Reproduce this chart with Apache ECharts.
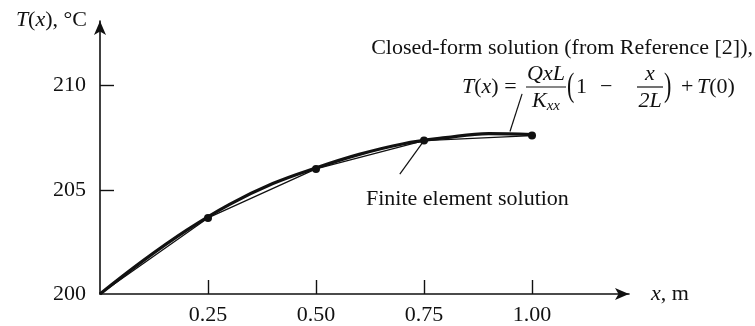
<!DOCTYPE html>
<html><head><meta charset="utf-8">
<script src="https://cdn.jsdelivr.net/npm/echarts@6/dist/echarts.min.js"></script>
<style>html,body{margin:0;padding:0;background:#fff}#c{width:755px;height:326px}</style>
</head><body><div id="c"></div>
<script>
// Finite element nodes
const feX = [0, 0.25, 0.5, 0.75, 1.0];
const feT = [200, 203.65, 206.0, 207.36, 207.6];
// Closed-form curve samples
const cfX = [0, 0.1, 0.2, 0.3, 0.4, 0.5, 0.6, 0.7, 0.8, 0.9, 1.0];
const cfT = [200, 201.6, 203.05, 204.3, 205.3, 206.05, 206.7, 207.2, 207.5, 207.7, 207.65];
// Ticks
const xTicks = [0.25, 0.5, 0.75, 1.0];
const xTickLabels = ['0.25', '0.50', '0.75', '1.00'];
const yTicks = [205, 210];
const yTickLabels = [200, 205, 210];
// Leader lines (data space)
const cfLeader = [[0.949, 207.8], [0.977, 209.6]];
const feLeader = [[0.75, 207.36], [0.694, 205.75]];

const FONT = '"Liberation Serif", "DejaVu Serif", serif';
const FS = 22;
const chart = echarts.init(document.getElementById('c'), null, {renderer: 'canvas'});
const ink = '#111';
const txt = (x, y, s, opt, extra) => Object.assign({type: 'text', x: x, y: y, style: Object.assign({text: s, fill: ink, font: FS + 'px ' + FONT, textVerticalAlign: 'middle'}, opt || {})}, extra || {});
const italicRich = {i: {fontStyle: 'italic', fontFamily: FONT, fontSize: FS, fill: ink, color: ink}};
chart.setOption({
  animation: false,
  backgroundColor: '#fff',
  grid: {left: 100, right: 126, top: 21, bottom: 31},
  xAxis: {
    type: 'value', min: 0, max: 1.2245,
    axisLine: {show: true, symbol: ['none', 'arrow'], symbolSize: [9, 14], lineStyle: {color: ink, width: 1.6}},
    axisTick: {show: true, inside: true, length: 14, lineStyle: {color: ink, width: 1.4}, customValues: xTicks},
    axisLabel: {color: ink, fontFamily: FONT, fontSize: FS, margin: 10, customValues: xTicks,
      formatter: v => { const i = xTicks.findIndex(t => Math.abs(t - v) < 1e-6); return i >= 0 ? xTickLabels[i] : ''; }},
    splitLine: {show: false},
    name: '{i|x}, m', nameLocation: 'end', nameGap: 22,
    nameTextStyle: {color: ink, fontFamily: FONT, fontSize: FS, verticalAlign: 'middle', rich: italicRich}
  },
  yAxis: {
    type: 'value', min: 200, max: 213.1,
    axisLine: {show: true, symbol: ['none', 'arrow'], symbolSize: [9, 14], lineStyle: {color: ink, width: 1.6}},
    axisTick: {show: true, inside: true, length: 14, lineStyle: {color: ink, width: 1.4}, customValues: yTicks},
    axisLabel: {color: ink, fontFamily: FONT, fontSize: FS, margin: 14, customValues: yTickLabels},
    splitLine: {show: false}
  },
  series: [
    {
      type: 'line', name: 'Closed-form', smooth: 0.4, showSymbol: false,
      data: cfX.map((x, i) => [x, cfT[i]]),
      lineStyle: {color: ink, width: 3.2}, z: 2,
      markLine: {silent: true, symbol: ['none', 'none'], label: {show: false},
        lineStyle: {color: ink, width: 1.2, type: 'solid'},
        data: [[{coord: cfLeader[0]}, {coord: cfLeader[1]}]]}
    },
    {
      type: 'line', name: 'Finite element', showSymbol: true, symbol: 'circle', symbolSize: 8,
      data: feX.map((x, i) => i === 0 ? {value: [x, feT[i]], symbol: 'none'} : [x, feT[i]]),
      lineStyle: {color: ink, width: 1.3}, itemStyle: {color: ink}, z: 3,
      markLine: {silent: true, symbol: ['none', 'none'], label: {show: false},
        lineStyle: {color: ink, width: 1.2, type: 'solid'},
        data: [[{coord: feLeader[0]}, {coord: feLeader[1]}]]}
    }
  ],
  graphic: [
    {type: 'text', x: 87, y: 20, style: {text: '{i|T}({i|x}), °C', align: 'right', verticalAlign: 'middle', fill: ink, font: FS + 'px ' + FONT, rich: italicRich}},
    txt(753, 48, 'Closed-form solution (from Reference [2]),', {textAlign: 'right'}),
    txt(366, 199, 'Finite element solution'),
    // formula
    {type: 'text', x: 462, y: 87, style: {text: '{i|T}({i|x}) =', verticalAlign: 'middle', fill: ink, font: FS + 'px ' + FONT, rich: italicRich}},
    txt(546, 74, 'QxL', {textAlign: 'center', font: 'italic ' + FS + 'px ' + FONT}),
    {type: 'line', shape: {x1: 526, y1: 87, x2: 566, y2: 87}, style: {stroke: ink, lineWidth: 1.2}},
    {type: 'text', x: 546, y: 101, style: {text: '{i|K}{s|xx}', align: 'center', verticalAlign: 'middle', fill: ink,
      rich: {i: {fontStyle: 'italic', fontFamily: FONT, fontSize: FS, fill: ink}, s: {fontStyle: 'italic', fontFamily: FONT, fontSize: 15, fill: ink, padding: [10, 0, 0, 0]}}}},
    txt(0, 0, '(', {font: FS + 'px ' + FONT}, {x: 567, y: 87, scaleY: 1.5}),
    txt(576, 87, '1'),
    txt(600, 87, '−'),
    txt(650, 74, 'x', {textAlign: 'center', font: 'italic ' + FS + 'px ' + FONT}),
    {type: 'line', shape: {x1: 637, y1: 87, x2: 663, y2: 87}, style: {stroke: ink, lineWidth: 1.2}},
    txt(650, 101, '2L', {textAlign: 'center', font: 'italic ' + FS + 'px ' + FONT}),
    txt(0, 0, ')', {font: FS + 'px ' + FONT}, {x: 664, y: 87, scaleY: 1.5}),
    txt(681, 87, '+'),
    {type: 'text', x: 697, y: 87, style: {text: '{i|T}(0)', verticalAlign: 'middle', fill: ink, font: FS + 'px ' + FONT, rich: italicRich}}
  ]
});
</script></body></html>
